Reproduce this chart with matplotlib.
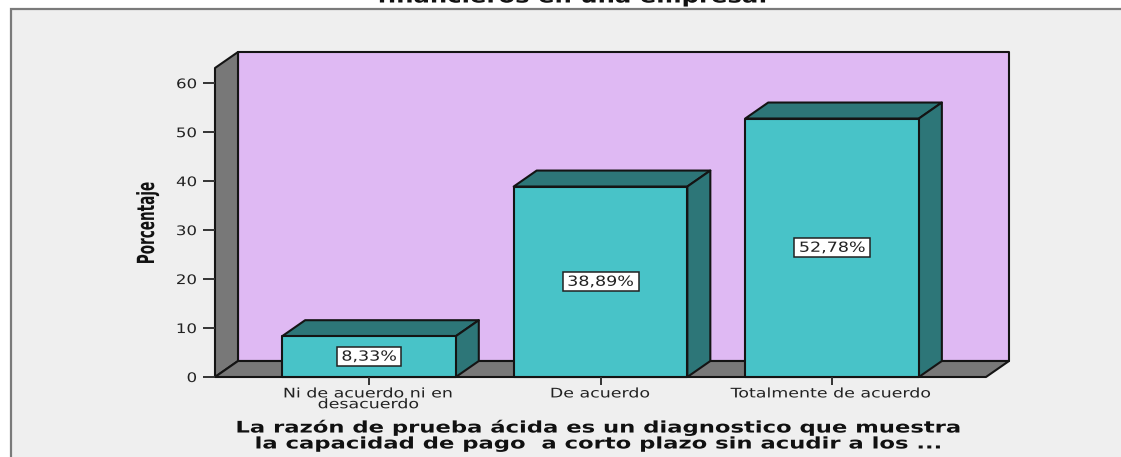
import matplotlib
matplotlib.use("Agg")
import matplotlib.pyplot as plt
from matplotlib.patches import Rectangle, Polygon
from matplotlib.patheffects import AbstractPathEffect
from matplotlib.transforms import Affine2D

categories = ["Ni de acuerdo ni en\ndesacuerdo", "De acuerdo", "Totalmente de acuerdo"]
values = [8.33, 38.89, 52.78]
labels = ["8,33%", "38,89%", "52,78%"]
yticks = [0, 10, 20, 30, 40, 50, 60]
ylabel = "Porcentaje"
xlabel = "La razón de prueba ácida es un diagnostico que muestra\nla capacidad de pago  a corto plazo sin acudir a los ..."
title = "financieros en una empresa."

W, H = 1121, 457
PURPLE, GREY = "#DFB9F3", "#787878"
TEAL, TEAL_D = "#48C3C8", "#2D7678"
EDGE = "#141414"


class Stretch(AbstractPathEffect):
    """Scale the glyph outlines about a display point (the source image is stretched)."""
    def __init__(self, sx, sy, cx, cy=0):
        super().__init__()
        self.t = Affine2D().translate(-cx, -cy).scale(sx, sy).translate(cx, cy)

    def draw_path(self, renderer, gc, tpath, affine, rgbFace=None):
        renderer.draw_path(gc, tpath, affine + self.t, rgbFace)


fig = plt.figure(figsize=(W / 100, H / 100), dpi=100, facecolor="white")
plt.rcParams["font.family"] = ["DejaVu Sans"]

# chart frame
fig.patches.append(Rectangle((11 / W, -0.02), 1.1, 1.02 - 9 / H, transform=fig.transFigure,
                             fc="#EFEFEF", ec="#7A7A7A", lw=1.6, figure=fig, zorder=-5))

L, R, B, T = 215, 986, 377, 68
ax = fig.add_axes([L / W, 1 - B / H, (R - L) / W, (B - T) / H], zorder=2)
ax.patch.set_visible(False)
ax.set_xlim(-0.665, 2.665)
ax.set_ylim(0, 63.1)
for s in ax.spines.values():
    s.set_visible(False)

x0, x1 = ax.get_xlim()
y0, y1 = ax.get_ylim()
ux = (R - L) / (x1 - x0)  # pixels per category
uy = (B - T) / (y1 - y0)  # pixels per percent
dx = 23 / ux
dy = 16 / uy
kw = dict(ec=EDGE, lw=1.5, joinstyle="round", clip_on=False)
px = lambda x: ax.transData.transform((x, 0))[0]

ax.add_patch(Polygon([(x0 + dx, y0 + dy), (x1 + dx, y0 + dy), (x1 + dx, y1 + dy), (x0 + dx, y1 + dy)], fc=PURPLE, **kw))
ax.add_patch(Polygon([(x0, y0), (x0 + dx, y0 + dy), (x0 + dx, y1 + dy), (x0, y1)], fc=GREY, **kw))
ax.add_patch(Polygon([(x0, y0), (x1, y0), (x1 + dx, y0 + dy), (x0 + dx, y0 + dy)], fc=GREY, **kw))

w = 0.75
for i, v in enumerate(values):
    l, r = i - w / 2, i + w / 2
    ax.add_patch(Polygon([(l, v), (r, v), (r + dx, v + dy), (l + dx, v + dy)], fc=TEAL_D, **kw))
    ax.add_patch(Polygon([(r, 0), (r + dx, dy), (r + dx, v + dy), (r, v)], fc=TEAL_D, **kw))
    ax.add_patch(Polygon([(l, 0), (r, 0), (r, v), (l, v)], fc=TEAL, **kw))
    bw = (12.5 * len(labels[i]) + 1) / ux
    bh = 19 / uy
    ax.add_patch(Rectangle((i - bw / 2, v / 2 - bh / 2), bw, bh, fc="white", ec="#222222", lw=1.1, zorder=3))
    ax.text(i, v / 2, labels[i], ha="center", va="center", fontsize=10, color="#222222", zorder=4,
            path_effects=[Stretch(1.26, 1, px(i))])

ax.set_yticks(yticks)
ax.set_xticks(range(len(categories)), categories)
ax.tick_params(axis="y", length=9, width=1.4, color="#333333", pad=3, labelsize=9.5, labelcolor="#222222")
ax.tick_params(axis="x", length=6, width=1.4, color="#333333", pad=1.5, labelsize=9.5, labelcolor="#222222")
for i, t in enumerate(ax.get_xticklabels()):
    t.set_linespacing(0.78)
    t.set_path_effects([Stretch(1.32, 1, px(i))])
for t in ax.get_yticklabels():
    t.set_path_effects([Stretch(1.26, 1, L - 12)])

fig.text(147 / W, 1 - 223 / H, ylabel, rotation=90, ha="center", va="center",
         fontsize=17, fontweight="bold", color="#111111",
         path_effects=[Stretch(1, 0.575, 0, H - 223)])
fig.text(600 / W, 1 - 435.5 / H, xlabel, ha="center", va="center", fontsize=11.5, fontweight="bold",
         color="#111111", linespacing=1.08, path_effects=[Stretch(1.42, 1, 600)])
fig.text(573 / W, 1 + 3 / H, title, ha="center", va="center", fontsize=14, fontweight="bold",
         color="#111111", path_effects=[Stretch(1.25, 1, 573)])
fig.savefig("out.png", dpi=100)
